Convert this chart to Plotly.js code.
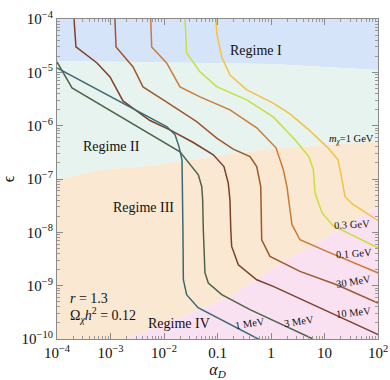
<!DOCTYPE html>
<html>
<head>
<meta charset="utf-8">
<script src="https://cdn.plot.ly/plotly-3.0.1.min.js"></script>
<style>
  html, body { margin: 0; padding: 0; background: white; }
  #chart { width: 390px; height: 380px; }
</style>
</head>
<body>
<div id="chart"></div>
<script>
// axis ranges (alpha_D and epsilon)
const xMin = 1e-4, xMax = 100;
const yMin = 1e-10, yMax = 1e-4;

// regime boundaries
const bndI_x = [1e-4, 1e-2, 1, 100];
const bndI_y = [1.63e-5, 1.53e-5, 1.44e-5, 1.11e-5];

const bndII_x = [1e-4, 6.37e-4, 5.47e-3, 4.71e-2, 0.622, 100];
const bndII_y = [9.66e-8, 1.49e-7, 1.77e-7, 2.39e-7, 3.52e-7, 5.08e-7];

const bndIV_x = [2.12e-3, 1.99e-2, 0.171, 1.47, 12.7, 100];
const bndIV_y = [1e-10, 2.52e-10, 6.22e-10, 2.58e-9, 9.0e-9, 3.01e-8];

// contour lines of Omega h^2 = 0.12 for each mediator mass
const mass1MeV_x = [1e-4, 5.47e-3, 1.14e-2, 1.61e-2, 1.91e-2, 2.17e-2, 2.22e-2, 2.26e-2, 2.30e-2, 2.65e-2, 4.33e-2, 0.64];
const mass1MeV_y = [1.21e-5, 1.40e-6, 9.5e-7, 6.73e-7, 4.01e-7, 2.29e-7, 6.28e-8, 1.12e-8, 1.29e-9, 6.78e-10, 3.87e-10, 9.5e-11];

const mass3MeV_x = [1e-4, 1.91e-4, 1.99e-2, 2.65e-2, 3.53e-2, 4.38e-2, 5.07e-2, 5.28e-2, 5.43e-2, 5.83e-2, 6.73e-2, 0.120, 0.405, 1.47, 6.10];
const mass3MeV_y = [1.57e-5, 5.11e-6, 3.23e-7, 2.29e-7, 1.60e-7, 1.20e-7, 7.24e-8, 4.07e-8, 1.12e-8, 1.75e-9, 1.12e-9, 6.78e-10, 3.56e-10, 1.94e-10, 1.0e-10];

const mass10MeV_x = [2.08e-4, 2.26e-4, 5.6e-4, 9.8e-4, 1.71e-3, 5.47e-3, 1.29e-2, 3.53e-2, 8.34e-2, 0.132, 0.159, 0.171, 0.177, 0.184, 0.245, 0.541, 1.10, 9.5, 101];
const mass10MeV_y = [1e-4, 2.99e-5, 1.50e-5, 8.2e-6, 2.91e-6, 1.25e-6, 8.34e-7, 4.83e-7, 2.84e-7, 1.71e-7, 8.38e-8, 4.07e-8, 1.12e-8, 5.45e-9, 2.47e-9, 1.29e-9, 9.7e-10, 3.56e-10, 1.21e-10];

const mass30MeV_x = [1.21e-3, 1.27e-3, 2.64e-3, 4.05e-3, 9.7e-3, 4.08e-2, 9.66e-2, 0.197, 0.405, 0.541, 0.643, 0.670, 0.670, 0.957, 3.48, 16.9, 100];
const mass30MeV_y = [1e-4, 2.99e-5, 1.26e-5, 5.33e-6, 3.04e-6, 1.19e-6, 5.83e-7, 3.63e-7, 2.64e-7, 1.71e-7, 7.24e-8, 1.12e-8, 7.26e-9, 3.54e-9, 1.85e-9, 1.04e-9, 4.74e-10];

const mass100MeV_x = [5.64e-3, 5.89e-3, 1.12e-2, 1.99e-2, 4.71e-2, 0.171, 0.541, 1.24, 1.70, 1.99, 2.26, 2.47, 3.48, 11.0, 101];
const mass100MeV_y = [1e-4, 2.99e-5, 1.50e-5, 5.33e-6, 3.46e-6, 1.98e-6, 9.1e-7, 3.84e-7, 1.49e-7, 7.14e-8, 2.65e-8, 1.39e-8, 7.26e-9, 4.39e-9, 1.73e-9];

const mass300MeV_x = [2.47e-2, 2.65e-2, 4.71e-2, 9.66e-2, 0.352, 1.10, 2.81, 5.13, 6.18, 6.64, 8.97, 14.4, 101];
const mass300MeV_y = [1e-4, 2.31e-5, 1.02e-5, 5.40e-6, 3.04e-6, 1.46e-6, 5.42e-7, 2.61e-7, 1.49e-7, 5.52e-8, 2.33e-8, 1.33e-8, 5.08e-9];

const mass1GeV_x = [9.38e-2, 9.66e-2, 0.120, 0.171, 0.352, 1.10, 2.26, 5.36, 11.6, 17.9, 20.9, 24.2, 32.7, 101];
const mass1GeV_y = [1e-4, 5.47e-5, 1.94e-5, 8.93e-6, 4.68e-6, 2.64e-6, 1.66e-6, 8.0e-7, 3.84e-7, 2.29e-7, 1.05e-7, 4.65e-8, 3.44e-8, 1.65e-8];

const massLabels = ['1 MeV', '3 MeV', '10 MeV', '30 MeV', '0.1 GeV', '0.3 GeV', '<i>m</i><sub><i>χ</i></sub>=1 GeV'];

const xTickVals = [1e-4, 1e-3, 1e-2, 0.1, 1, 10, 100];
const xTickText = ['10<sup>−4</sup>', '10<sup>−3</sup>', '10<sup>−2</sup>', '0.1', '1', '10', '10<sup>2</sup>'];
const yTickVals = [1e-10, 1e-9, 1e-8, 1e-7, 1e-6, 1e-5, 1e-4];
const yTickText = ['10<sup>−10</sup>', '10<sup>−9</sup>', '10<sup>−8</sup>', '10<sup>−7</sup>', '10<sup>−6</sup>', '10<sup>−5</sup>', '10<sup>−4</sup>'];

const serif = 'Liberation Serif, DejaVu Serif, serif';

// minor tick positions 2..9 inside each decade
function minorTicks(decades) {
  const out = [];
  decades.slice(0, -1).forEach(d => {
    for (let k = 2; k <= 9; k++) out.push(d * k);
  });
  return out;
}

function region(x, y, color) {
  return {
    x: x, y: y, mode: 'lines', type: 'scatter', fill: 'toself',
    fillcolor: color, line: { width: 0, color: color },
    hoverinfo: 'skip', showlegend: false
  };
}

const rev = a => a.slice().reverse();

const regimeI = region(
  [...bndI_x, xMax, xMin],
  [...bndI_y, yMax, yMax], '#d6e4fa');
const regimeII = region(
  [...bndI_x, ...rev(bndII_x)],
  [...bndI_y, ...rev(bndII_y)], '#e6f3ee');
const regimeIII = region(
  [...bndII_x, ...rev(bndIV_x), xMin],
  [...bndII_y, ...rev(bndIV_y), yMin], '#fae8d2');
const regimeIV = region(
  [...bndIV_x, xMax],
  [...bndIV_y, yMin], '#f9e1f1');

function contour(x, y, color) {
  return {
    x: x, y: y, mode: 'lines', type: 'scatter',
    line: { color: color, width: 1.5 },
    hoverinfo: 'skip', showlegend: false
  };
}

const traces = [
  regimeI, regimeII, regimeIII, regimeIV,
  contour(mass1GeV_x, mass1GeV_y, '#f5c242'),
  contour(mass300MeV_x, mass300MeV_y, '#c6e03a'),
  contour(mass100MeV_x, mass100MeV_y, '#cd7a34'),
  contour(mass30MeV_x, mass30MeV_y, '#a0562e'),
  contour(mass10MeV_x, mass10MeV_y, '#7b4029'),
  contour(mass3MeV_x, mass3MeV_y, '#4f6349'),
  contour(mass1MeV_x, mass1MeV_y, '#3d6a70')
];

// annotation helper: positions in paper units, centred unless told otherwise
function note(text, x, y, size, opts) {
  return Object.assign({
    text: text, x: x, y: y, xref: 'paper', yref: 'paper',
    xanchor: 'center', yanchor: 'middle',
    showarrow: false, font: { family: serif, size: size, color: '#111' }
  }, opts || {});
}

const annotations = [
  note('Regime I', 0.620, 0.903, 14),
  note('Regime II', 0.171, 0.603, 14),
  note('Regime III', 0.271, 0.412, 14),
  note('Regime IV', 0.380, 0.050, 14),
  note('<i>r</i> = 1.3', 0.034, 0.128, 14, { xanchor: 'left' }),
  note('Ω<sub><i>χ</i></sub><i>h</i><sup>2</sup> = 0.12', 0.034, 0.075, 14, { xanchor: 'left' }),
  note(massLabels[6], 0.916, 0.622, 10.5),
  note(massLabels[5], 0.919, 0.359, 10.5, { textangle: -3 }),
  note(massLabels[4], 0.925, 0.266, 10.5, { textangle: -4 }),
  note(massLabels[3], 0.925, 0.181, 10.5, { textangle: -9 }),
  note(massLabels[2], 0.925, 0.084, 10.5, { textangle: -6 }),
  note(massLabels[1], 0.754, 0.056, 10.5, { textangle: -9 }),
  note(massLabels[0], 0.601, 0.047, 10.5, { textangle: -9 })
];

const axisCommon = {
  type: 'log',
  showgrid: false,
  zeroline: false,
  showline: true,
  linecolor: '#8a8a8a',
  linewidth: 1,
  mirror: 'allticks',
  ticks: 'inside',
  ticklen: 6,
  tickcolor: '#8a8a8a',
  tickfont: { family: serif, size: 15, color: '#111' }
};

const layout = {
  width: 390,
  height: 380,
  margin: { l: 57, r: 12, t: 19, b: 41 },
  paper_bgcolor: 'white',
  plot_bgcolor: 'white',
  showlegend: false,
  xaxis: Object.assign({}, axisCommon, {
    range: [Math.log10(xMin), Math.log10(xMax)],
    tickmode: 'array', tickvals: xTickVals, ticktext: xTickText,
    minor: { ticks: 'inside', ticklen: 3, tickcolor: '#9a9a9a', tickmode: 'array', tickvals: minorTicks(xTickVals), showgrid: false },
    title: { text: '<i>α</i><sub><i>D</i></sub>', font: { family: serif, size: 16, color: '#111' }, standoff: 10 }
  }),
  yaxis: Object.assign({}, axisCommon, {
    range: [Math.log10(yMin), Math.log10(yMax)],
    tickmode: 'array', tickvals: yTickVals, ticktext: yTickText,
    minor: { ticks: 'inside', ticklen: 3, tickcolor: '#9a9a9a', tickmode: 'array', tickvals: minorTicks(yTickVals), showgrid: false },
    title: { text: 'ϵ', font: { family: serif, size: 16, color: '#111' }, standoff: 4 }
  }),
  annotations: annotations
};

Plotly.newPlot('chart', traces, layout, { displayModeBar: false, staticPlot: true });
</script>
</body>
</html>
